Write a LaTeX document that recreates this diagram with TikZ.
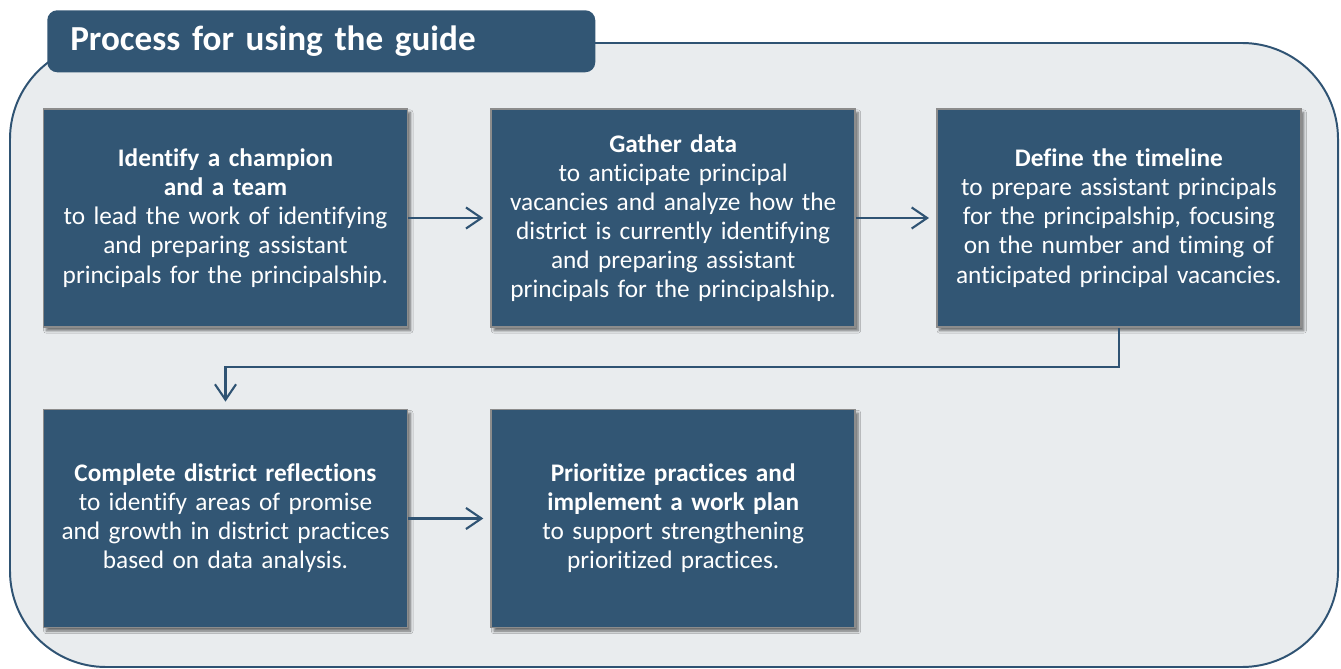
\documentclass[tikz,border=0pt]{standalone}
\usepackage{fontspec}
\setmainfont[Ligatures=NoCommon]{Carlito}
\usetikzlibrary{positioning, arrows.meta, shadows.blur}

\definecolor{guideblue}{HTML}{325674}
\definecolor{frameblue}{HTML}{2F5373}
\definecolor{panelgray}{HTML}{E9ECEE}
\definecolor{edgegray}{HTML}{8C8C8C}

\begin{document}
\begin{tikzpicture}[
	stagebox/.style={rectangle, draw=edgegray, line width=1.2pt, fill=guideblue, text=white,
		minimum width=9.1cm, minimum height=5.45cm, text width=8.8cm, align=center,
		font=\fontsize{18}{20.7}\selectfont,
		blur shadow={shadow xshift=2pt, shadow yshift=-2.5pt, shadow blur steps=6, shadow opacity=55}},
	flow/.style={draw=frameblue, line width=1.5pt, shorten >=5pt,
		-{Straight Barb[length=11pt, width=15pt, line width=1.5pt]}}
	]
	\useasboundingbox (0,0) rectangle (33.525,-16.725);
	% Panel behind the steps
	\draw[fill=panelgray, draw=frameblue, line width=1.4pt, rounded corners=2.4cm] (0.25,-1.075) rectangle (33.45,-16.675);
	% Title tab
	\node[fill=guideblue, rounded corners=0.25cm, anchor=north west, minimum width=13.7cm, minimum height=1.55cm,
		text width=12.55cm, align=left, text=white, font=\fontsize{25}{28}\selectfont\bfseries] (title) at (1.175,-0.25) {Process for using the guide};

	% Steps, first row
	\node[stagebox] (champion) at (5.6375,-5.45) {\textbf{Identify a champion}\\ \textbf{and a team}\\ to lead the work of identifying\\ and preparing assistant\\ principals for the principalship.};
	\node[stagebox, right=2.05cm of champion] (data) {\textbf{Gather data}\\ to anticipate principal\\ vacancies and analyze how the\\ district is currently identifying\\ and preparing assistant\\ principals for the principalship.};
	\node[stagebox, right=2.0cm of data] (timeline) {\textbf{Define the timeline}\\ to prepare assistant principals\\ for the principalship, focusing\\ on the number and timing of\\ anticipated principal vacancies.};
	% Steps, second row
	\node[stagebox, below=2.02cm of champion] (reflect) {\textbf{Complete district reflections}\\ to identify areas of promise\\ and growth in district practices\\ based on data analysis.};
	\node[stagebox, right=2.05cm of reflect] (plan) {\textbf{Prioritize practices and}\\ \textbf{implement a work plan}\\ to support strengthening\\ prioritized practices.};

	% Arrows between steps
	\draw[flow] (champion) -- (data);
	\draw[flow] (data) -- (timeline);
	\draw[flow] (timeline.south) -- ++(0,-0.98) -| (reflect.north);
	\draw[flow] (reflect) -- (plan);
\end{tikzpicture}
\end{document}
